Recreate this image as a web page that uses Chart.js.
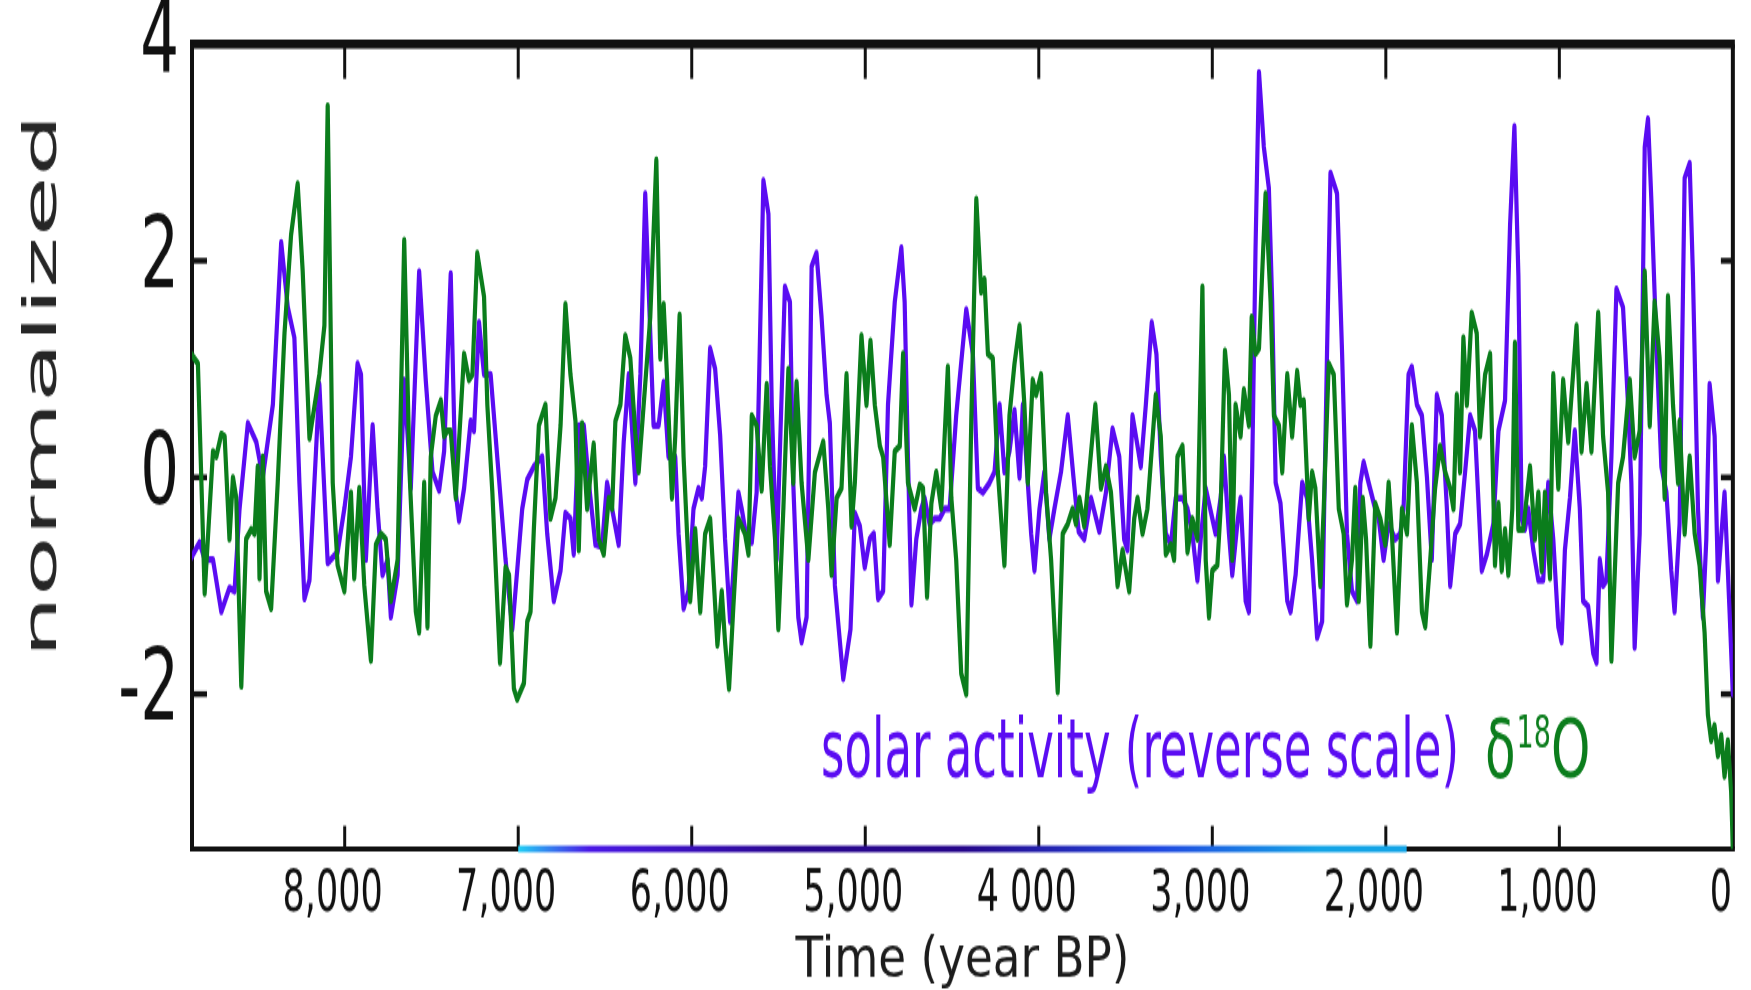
<!DOCTYPE html>
<html>
<head>
<meta charset="utf-8">
<title>Solar activity and δ18O</title>
<script src="https://cdn.jsdelivr.net/npm/chart.js@4.4.1/dist/chart.umd.min.js"></script>
<style>
  html, body { margin: 0; padding: 0; background: #fff; overflow: hidden; }
</style>
</head>
<body>
<!-- the figure is vertically stretched, so the canvas is drawn at 600px and shown at 990px -->
<canvas id="chart" width="1751" height="600" style="display:block;width:1751px;height:990px"></canvas>
<script>
// axis ranges and ticks
const xMax = 8880;
const yMin = -3.43;
const yMax = 4;
const xTickValues = [8000, 7000, 6000, 5000, 4000, 3000, 2000, 1000, 0];
const xTickLabels = ['8,000', '7,000', '6,000', '5,000', '4 000', '3,000', '2,000', '1,000', '0'];
const yTickValues = [-2, 0, 2, 4];

const solarLabel = 'solar activity (reverse scale)';
const isotopeLabel = ['δ', '18', 'O'];

// solar activity (reverse scale), year BP
const solarYears = [8884, 8836, 8807, 8759, 8711, 8664, 8635, 8606, 8558, 8510, 8472, 8414, 8366, 8328, 8290, 8261, 8232, 8203, 8146, 8098,
  8041, 8002, 7964, 7926, 7906, 7878, 7839, 7811, 7782, 7753, 7734, 7695, 7657, 7619, 7571, 7533, 7494, 7456, 7427, 7389,
  7360, 7341, 7312, 7274, 7255, 7226, 7197, 7159, 7121, 7073, 7034, 7006, 6977, 6948, 6910, 6862, 6833, 6795, 6756, 6728,
  6699, 6680, 6651, 6622, 6593, 6555, 6517, 6488, 6459, 6421, 6392, 6363, 6354, 6325, 6296, 6268, 6239, 6220, 6191, 6162,
  6134, 6095, 6076, 6047, 6019, 5990, 5961, 5942, 5923, 5894, 5865, 5836, 5808, 5779, 5731, 5712, 5683, 5654, 5626, 5587,
  5558, 5539, 5511, 5463, 5434, 5415, 5386, 5367, 5338, 5309, 5281, 5252, 5223, 5204, 5175, 5127, 5085, 5060, 5031, 5003,
  4974, 4951, 4926, 4897, 4869, 4830, 4792, 4773, 4754, 4734, 4706, 4677, 4658, 4629, 4600, 4571, 4543, 4514, 4476, 4418,
  4380, 4351, 4322, 4284, 4255, 4226, 4198, 4169, 4140, 4111, 4092, 4073, 4044, 4025, 3996, 3968, 3939, 3910, 3872, 3833,
  3800, 3770, 3738, 3699, 3651, 3613, 3575, 3536, 3508, 3489, 3460, 3431, 3412, 3383, 3349, 3322, 3297, 3268, 3239, 3211,
  3172, 3143, 3115, 3086, 3067, 3038, 3000, 2981, 2952, 2933, 2904, 2885, 2856, 2837, 2808, 2789, 2770, 2751, 2731, 2703,
  2674, 2655, 2635, 2607, 2588, 2568, 2549, 2520, 2482, 2454, 2425, 2396, 2367, 2339, 2319, 2281, 2252, 2224, 2195, 2166,
  2147, 2128, 2099, 2061, 2041, 2013, 1984, 1946, 1917, 1898, 1869, 1850, 1821, 1792, 1763, 1735, 1706, 1677, 1648, 1629,
  1600, 1572, 1543, 1514, 1486, 1447, 1418, 1380, 1351, 1313, 1284, 1259, 1236, 1217, 1198, 1179, 1150, 1121, 1093, 1064,
  1035, 1006, 987, 968, 939, 911, 882, 863, 834, 805, 786, 767, 748, 729, 700, 671, 633, 604, 585, 566,
  537, 508, 489, 470, 441, 412, 383, 355, 336, 307, 278, 249, 230, 201, 173, 153, 134, 105, 86, 48,
  19, 0];
const solarValues = [-0.74, -0.60, -0.76, -0.76, -1.24, -1.02, -1.05, -0.29, 0.50, 0.33, 0.00, 0.67, 2.17, 1.57, 1.29, -0.05, -1.12, -0.95, 0.86, -0.79,
  -0.69, -0.29, 0.19, 1.05, 0.95, -0.76, 0.48, -0.29, -0.90, -0.76, -1.29, -0.90, 0.90, -0.10, 1.90, 0.90, 0.05, -0.12, 0.24, 1.88,
  -0.14, -0.40, -0.10, 0.52, 0.43, 1.43, 0.95, 0.95, 0.19, -0.76, -1.40, -0.86, -0.29, -0.02, 0.10, 0.19, -0.52, -1.14, -0.86, -0.33,
  -0.38, -0.71, 0.48, 0.48, -0.05, -0.62, -0.64, -0.05, -0.29, -0.62, 0.33, 0.95, 0.71, -0.05, 0.95, 2.62, 1.33, 0.48, 0.48, 0.88,
  0.19, 0.19, -0.52, -1.21, -1.05, -0.29, -0.10, -0.19, 0.10, 1.19, 1.00, 0.38, -0.57, -1.33, -0.14, -0.29, -0.57, -0.60, -0.14, 2.74,
  2.43, 0.67, -0.76, 1.76, 1.62, -0.05, -1.29, -1.52, -1.29, 1.95, 2.07, 1.48, 0.76, 0.50, -1.00, -1.86, -1.40, -0.33, -0.45, -0.83,
  -0.57, -0.52, -1.12, -1.05, 0.67, 1.62, 2.12, 1.62, 0.19, -1.17, -0.57, -0.29, -0.19, -0.43, -0.38, -0.38, -0.29, -0.29, 0.57, 1.55,
  1.14, -0.10, -0.14, -0.05, 0.05, 0.67, 0.05, 0.24, 0.62, 0.00, 0.67, 0.19, -0.52, -0.86, -0.29, 0.05, -0.57, -0.29, 0.05, 0.57,
  0.00, -0.50, -0.57, -0.19, -0.50, -0.14, 0.45, 0.19, -0.57, -0.67, 0.57, 0.29, 0.10, 0.67, 1.43, 1.14, 0.19, -0.52, -0.62, -0.19,
  -0.19, -0.29, -0.52, -0.95, -0.57, -0.10, -0.38, -0.52, -0.19, 0.19, -0.52, -0.90, -0.43, -0.19, -1.14, -1.24, 0.10, 2.10, 3.74, 3.05,
  2.67, 1.62, -0.05, -0.24, -0.67, -1.14, -1.24, -0.90, -0.05, -0.19, -0.76, -1.48, -1.33, 1.14, 2.81, 2.62, 1.14, -0.52, -1.05, -1.14,
  -0.05, 0.14, -0.05, -0.29, -0.38, -0.76, -0.43, -0.57, -0.52, -0.29, 0.95, 1.02, 0.67, 0.57, 0.00, -0.76, 0.76, 0.57, -0.29, -1.00,
  -0.52, -0.43, 0.05, 0.57, 0.43, -0.86, -0.71, -0.43, 0.43, 0.71, 2.33, 3.24, 1.86, -0.38, -0.48, -0.29, -0.67, -0.95, -0.95, -0.05,
  -0.57, -1.38, -1.52, -0.67, -0.19, 0.43, -0.29, -1.14, -1.19, -1.62, -1.71, -0.76, -1.00, -0.95, 0.19, 1.74, 1.57, 0.67, -0.05, -1.57,
  -0.52, 3.05, 3.31, 2.57, 1.24, 0.10, -0.14, -0.86, -1.24, -0.43, 2.76, 2.90, 1.86, -0.29, -1.29, -0.57, 0.86, 0.38, -0.95, -0.14,
  -1.24, -2.00];

// δ18O, year BP
const isotopeYears = [8884, 8846, 8807, 8759, 8740, 8711, 8692, 8664, 8644, 8625, 8596, 8568, 8539, 8520, 8501, 8491, 8472, 8453, 8424, 8386,
  8347, 8309, 8271, 8242, 8203, 8146, 8117, 8098, 8069, 8041, 8002, 7964, 7945, 7916, 7887, 7849, 7820, 7791, 7763, 7734,
  7695, 7657, 7625, 7590, 7571, 7542, 7523, 7504, 7475, 7446, 7427, 7408, 7389, 7360, 7312, 7284, 7264, 7236, 7197, 7178,
  7149, 7121, 7105, 7073, 7053, 7025, 7006, 6967, 6948, 6929, 6910, 6881, 6843, 6814, 6785, 6756, 6728, 6699, 6670, 6651,
  6632, 6603, 6565, 6536, 6507, 6478, 6459, 6440, 6411, 6383, 6354, 6325, 6306, 6277, 6239, 6204, 6181, 6162, 6143, 6114,
  6095, 6070, 6047, 6028, 6009, 5980, 5951, 5923, 5894, 5875, 5852, 5827, 5808, 5785, 5760, 5731, 5693, 5673, 5654, 5626,
  5597, 5568, 5549, 5520, 5501, 5472, 5443, 5415, 5396, 5367, 5328, 5290, 5242, 5213, 5194, 5165, 5137, 5108, 5079, 5060,
  5022, 4993, 4970, 4945, 4916, 4897, 4859, 4830, 4801, 4782, 4754, 4715, 4686, 4667, 4644, 4619, 4591, 4562, 4524, 4504,
  4476, 4447, 4418, 4389, 4360, 4332, 4313, 4293, 4265, 4236, 4198, 4169, 4140, 4111, 4083, 4063, 4035, 4016, 3987, 3958,
  3929, 3891, 3862, 3833, 3805, 3786, 3766, 3738, 3709, 3674, 3642, 3613, 3584, 3546, 3517, 3479, 3450, 3431, 3402, 3374,
  3326, 3297, 3268, 3239, 3220, 3201, 3172, 3143, 3115, 3086, 3057, 3038, 3019, 3000, 2971, 2952, 2927, 2904, 2885, 2866,
  2837, 2818, 2789, 2773, 2751, 2731, 2693, 2664, 2645, 2616, 2597, 2568, 2540, 2511, 2492, 2473, 2444, 2425, 2406, 2377,
  2358, 2329, 2300, 2271, 2243, 2224, 2195, 2176, 2156, 2133, 2114, 2089, 2061, 2032, 2003, 1984, 1965, 1936, 1907, 1878,
  1850, 1821, 1792, 1773, 1744, 1716, 1687, 1658, 1629, 1610, 1591, 1572, 1553, 1533, 1505, 1476, 1457, 1428, 1399, 1371,
  1351, 1332, 1313, 1294, 1271, 1256, 1236, 1208, 1169, 1141, 1121, 1102, 1083, 1054, 1035, 1006, 978, 949, 901, 872,
  843, 815, 776, 748, 719, 700, 661, 633, 594, 566, 537, 508, 479, 451, 422, 393, 374, 345, 316, 307,
  278, 249, 220, 192, 163, 144, 125, 106, 86, 67, 48, 29, 10, 0];
const isotopeValues = [1.14, 1.05, -1.07, 0.24, 0.19, 0.40, 0.38, -0.57, 0.00, -0.19, -1.93, -0.57, -0.48, -0.52, 0.10, -0.93, 0.19, -1.05, -1.21, -0.05,
  1.33, 2.24, 2.71, 1.90, 0.36, 0.95, 1.40, 3.43, -0.05, -0.81, -1.05, -0.14, -0.93, -0.10, -1.00, -1.69, -0.62, -0.52, -0.57, -1.14,
  -0.76, 2.19, 0.00, -1.24, -1.43, -0.05, -1.38, 0.19, 0.57, 0.71, 0.38, 0.43, 0.43, -0.19, 1.14, 0.90, 0.95, 2.07, 1.67, 0.67,
  -0.14, -1.14, -1.71, -0.83, -0.90, -1.95, -2.05, -1.90, -1.33, -1.24, -0.48, 0.48, 0.67, -0.38, -0.19, 0.48, 1.60, 0.95, 0.52, -0.67,
  0.50, -0.29, 0.31, -0.57, -0.71, -0.19, -0.29, 0.52, 0.67, 1.31, 1.10, 0.40, 0.05, 0.67, 1.48, 2.93, 1.10, 1.60, 0.95, -0.19,
  0.38, 1.50, 0.19, -0.48, -1.14, -0.48, -1.24, -0.52, -0.38, -0.90, -1.55, -1.05, -1.52, -1.95, -1.19, -0.38, -0.52, -0.71, 0.57, 0.48,
  -0.12, 0.86, 0.10, -0.57, -1.40, -0.29, 1.00, -0.05, 0.88, -0.05, -0.76, 0.05, 0.33, -0.29, -0.90, -0.19, -0.10, 0.95, -0.45, -0.05,
  1.31, 0.67, 1.26, 0.67, 0.29, 0.19, -0.62, 0.24, 0.29, 1.14, -0.05, -0.29, -0.07, -0.10, -1.10, -0.24, 0.05, -0.29, 1.02, -0.19,
  -0.76, -1.81, -2.00, 0.52, 2.57, 1.71, 1.83, 1.14, 1.10, 0.05, -0.81, 0.57, 1.05, 1.40, 0.67, -0.05, 0.90, 0.76, 0.95, -0.14,
  -0.76, -1.98, -0.52, -0.43, -0.29, -0.43, -0.19, -0.45, 0.05, 0.67, -0.10, 0.10, -0.14, -1.00, -0.67, -1.05, -0.38, -0.19, -0.52, -0.29,
  0.76, 0.38, -0.71, -0.62, -0.76, 0.19, 0.29, -0.69, -0.38, -0.57, 1.76, -0.76, -1.29, -0.86, -0.81, -0.29, 1.17, 0.76, -0.76, 0.67,
  0.38, 0.81, 0.48, 1.48, 1.14, 1.19, 2.62, 1.62, 0.57, 0.48, 0.05, 0.95, 0.38, 0.98, 0.67, 0.71, -0.38, 0.05, -0.10, -1.00,
  -0.29, 1.05, 0.95, -0.29, -0.52, -1.17, -0.76, -0.10, -1.14, -0.19, -0.57, -1.55, -0.24, -0.38, -0.62, -0.05, -0.52, -1.43, -0.29, -0.52,
  0.48, -0.05, -1.24, -1.38, -0.76, -0.10, 0.29, 0.05, -0.10, -0.29, 0.76, 0.05, 1.29, 0.67, 1.52, 1.33, 0.38, 0.95, 1.14, -0.81,
  -0.24, -0.86, -0.48, -0.90, -0.29, 1.24, -0.48, -0.48, 0.10, -0.57, -0.14, -0.86, -0.14, -0.93, 0.95, -0.10, 0.90, 0.33, 1.40, 0.24,
  0.86, 0.24, 1.52, 0.38, -0.14, -1.69, -0.05, 0.19, 0.90, 0.19, 0.43, 1.90, 0.48, 1.62, 1.10, -0.19, 1.67, 0.67, -0.05, 0.52,
  -0.52, 0.19, -0.52, -0.81, -1.43, -2.19, -2.43, -2.29, -2.57, -2.38, -2.76, -2.43, -2.90, -3.43];

// coloured band sitting on the bottom axis
const bandYears = [7000, 1880];

const purple = '#5a0cf2';
const green = '#0b7d1c';

function toPoints(xs, ys) {
    return xs.map((x, i) => ({ x: x, y: ys[i] }));
}

// draws text squeezed/stretched along its own direction, like the original raster
function drawScaledText(ctx, text, x, y, font, sx, align) {
    ctx.save();
    ctx.translate(x, y);
    ctx.scale(sx, 1);
    ctx.font = font;
    ctx.textAlign = align;
    ctx.fillText(text, 0, 0);
    ctx.restore();
}

const framePlugin = {
    id: 'frame',
    beforeDatasetsDraw(chart) {
        const { ctx, chartArea: a, scales: { x, y } } = chart;
        const line = (x0, y0, x1, y1) => {
            ctx.beginPath();
            ctx.moveTo(x0, y0);
            ctx.lineTo(x1, y1);
            ctx.stroke();
        };
        ctx.save();
        ctx.strokeStyle = '#111';
        // inward ticks
        ctx.lineWidth = 3;
        xTickValues.forEach(v => {
            if (v === 0) return;
            const px = x.getPixelForValue(v);
            line(px, a.top, px, a.top + 21);
            line(px, a.bottom, px, a.bottom - 14);
        });
        ctx.lineWidth = 3.5;
        yTickValues.forEach(v => {
            if (v === yMax) return;
            const py = y.getPixelForValue(v);
            line(a.left, py, a.left + 15, py);
            line(a.right, py, a.right - 12, py);
        });
        // frame
        ctx.lineWidth = 5.5;
        line(a.left - 2, a.top, a.right + 2, a.top);
        ctx.lineWidth = 3;
        line(a.left - 2, a.bottom, a.right + 2, a.bottom);
        ctx.lineWidth = 4;
        line(a.left, a.top, a.left, a.bottom);
        line(a.right, a.top, a.right, a.bottom);
        ctx.restore();
    },
    afterDraw(chart) {
        const { ctx, chartArea: a } = chart;
        ctx.save();
        ctx.textBaseline = 'alphabetic';

        // axis titles
        ctx.fillStyle = '#1c1c1c';
        drawScaledText(ctx, chart.options.scales.x.title.text, (a.left + a.right) / 2, 592,
            '34px "DejaVu Sans"', 1.33, 'center');

        ctx.save();
        ctx.translate(56, 234);
        ctx.rotate(-Math.PI / 2);
        ctx.fillStyle = '#262626';
        drawScaledText(ctx, chart.options.scales.y.title.text, 0, 0, '46px "DejaVu Sans"', 1.29, 'center');
        ctx.restore();

        // in-plot legend
        ctx.textAlign = 'left';
        ctx.font = '50px "DejaVu Sans Condensed", "DejaVu Sans"';
        ctx.fillStyle = chart.data.datasets[1].borderColor;
        ctx.fillText(chart.data.datasets[1].label, 821, 471);

        ctx.fillStyle = chart.data.datasets[0].borderColor;
        let lx = 1485;
        ctx.font = '50px "DejaVu Sans"';
        ctx.fillText(isotopeLabel[0], lx, 471);
        lx += ctx.measureText(isotopeLabel[0]).width + 1;
        ctx.font = '27px "DejaVu Sans"';
        ctx.fillText(isotopeLabel[1], lx, 453);
        lx += ctx.measureText(isotopeLabel[1]).width;
        ctx.font = '50px "DejaVu Sans"';
        ctx.fillText(isotopeLabel[2], lx, 471);
        ctx.restore();
    }
};

const canvas = document.getElementById('chart');

new Chart(canvas, {
    type: 'line',
    data: {
        datasets: [
            {
                label: isotopeLabel.join(''),
                data: toPoints(isotopeYears, isotopeValues),
                borderColor: green,
                borderWidth: 4.2,
                pointRadius: 0,
                order: 0
            },
            {
                label: solarLabel,
                data: toPoints(solarYears, solarValues),
                borderColor: purple,
                borderWidth: 4.2,
                pointRadius: 0,
                order: 1
            },
            {
                label: 'band',
                data: toPoints(bandYears, [yMin, yMin]),
                borderWidth: 4,
                pointRadius: 0,
                clip: false,
                order: 2,
                borderCapStyle: 'butt',
                borderColor: function(context) {
                    const chart = context.chart;
                    if (!chart.chartArea) return '#3010d0';
                    const xs = chart.scales.x;
                    const g = chart.ctx.createLinearGradient(xs.getPixelForValue(bandYears[0]), 0, xs.getPixelForValue(bandYears[1]), 0);
                    g.addColorStop(0, '#22d0f5');
                    g.addColorStop(0.08, '#4a18e6');
                    g.addColorStop(0.3, '#2a0890');
                    g.addColorStop(0.5, '#26068a');
                    g.addColorStop(0.72, '#2048e0');
                    g.addColorStop(0.9, '#14a4e6');
                    g.addColorStop(1, '#14a4e6');
                    return g;
                }
            }
        ]
    },
    options: {
        responsive: false,
        animation: false,
        events: [],
        layout: { padding: { top: 26.7, right: 18, bottom: 0, left: 0 } },
        elements: { line: { tension: 0, borderJoinStyle: 'round', borderCapStyle: 'round' } },
        plugins: {
            legend: { display: false },
            tooltip: { enabled: false }
        },
        scales: {
            x: {
                type: 'linear',
                reverse: true,
                min: 0,
                max: xMax,
                grid: { display: false, drawTicks: false },
                border: { display: false },
                afterBuildTicks(scale) {
                    scale.ticks = xTickValues.map(v => ({ value: v }));
                },
                afterFit(scale) {
                    scale.height = 85.5;
                },
                ticks: {
                    autoSkip: false,
                    maxRotation: 0,
                    padding: 7,
                    labelOffset: -12,
                    color: '#111',
                    font: { family: 'DejaVu Sans', size: 35, lineHeight: 1.2 },
                    callback: (value, index) => xTickLabels[index]
                },
                title: { display: false, text: 'Time (year BP)' }
            },
            y: {
                type: 'linear',
                min: yMin,
                max: yMax,
                grid: { display: false, drawTicks: false },
                border: { display: false },
                afterBuildTicks(scale) {
                    scale.ticks = yTickValues.map(v => ({ value: v }));
                },
                afterFit(scale) {
                    scale.width = 192;
                },
                ticks: {
                    padding: 13,
                    color: '#111',
                    font: { family: 'DejaVu Sans', size: 61, lineHeight: 0.4 },
                    callback: value => String(value)
                },
                title: { display: false, text: 'normalized' }
            }
        }
    },
    plugins: [framePlugin]
});
</script>
</body>
</html>
